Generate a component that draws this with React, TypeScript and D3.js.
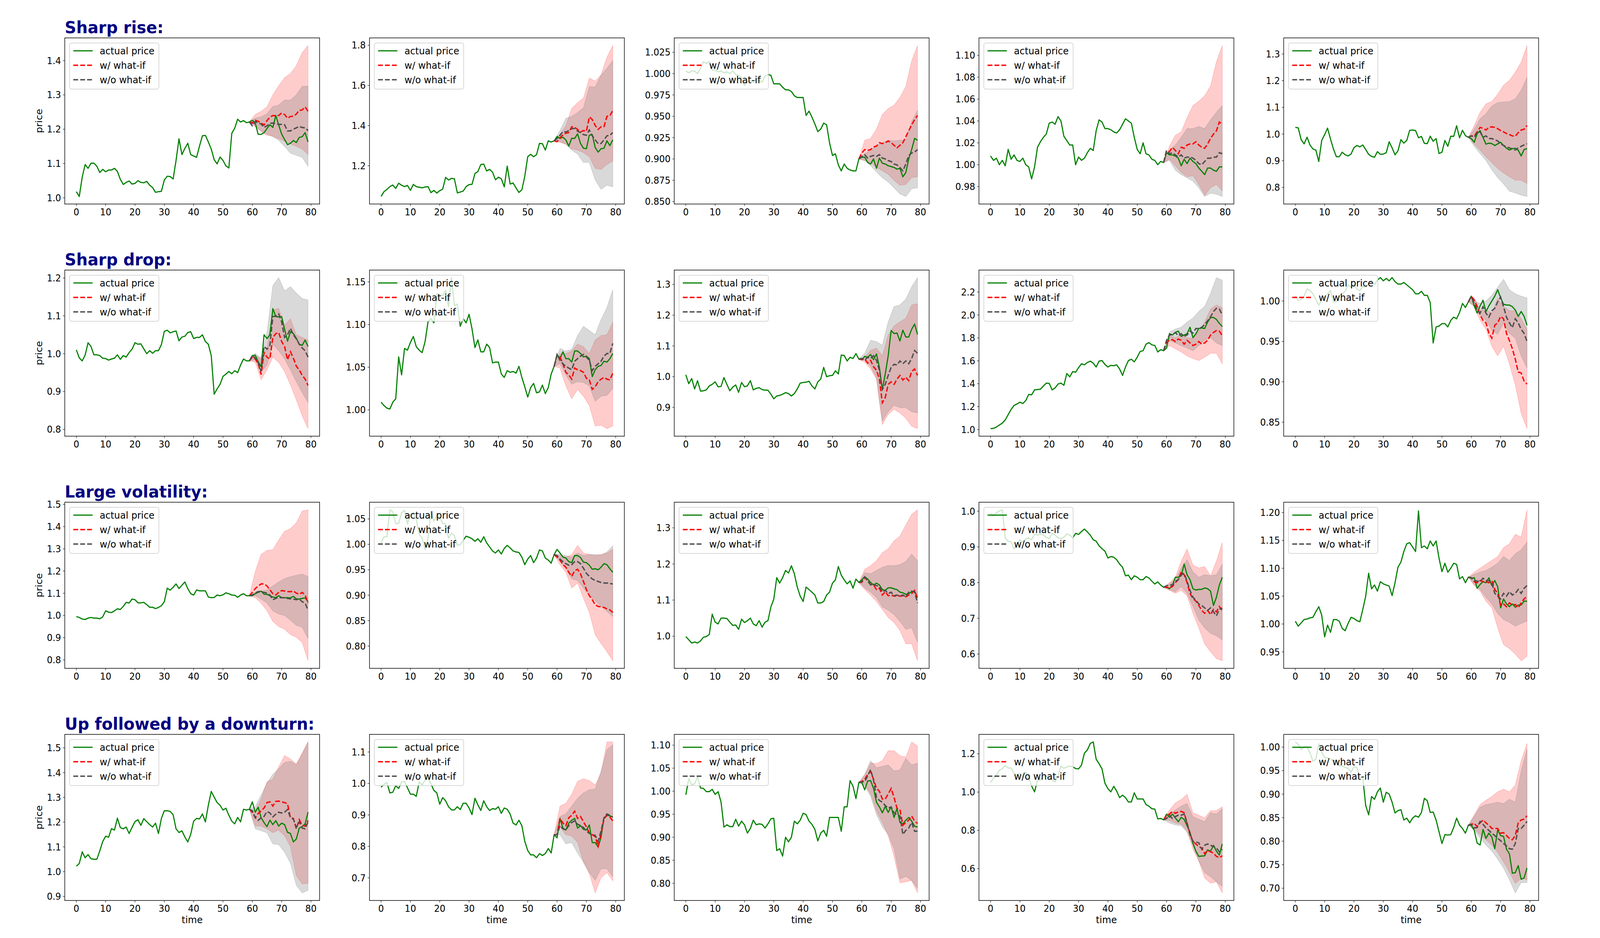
import React from 'react';
import * as d3 from 'd3';

// Row titles, shared tick labels and legend entries
const rowTitles = ['Sharp rise:', 'Sharp drop:', 'Large volatility:', 'Up followed by a downturn:'];
const timeTicks = [0, 10, 20, 30, 40, 50, 60, 70, 80];
const legendLabels = ['actual price', 'w/ what-if', 'w/o what-if'];

// actual price, time steps 0..79, one list per panel (row by row)
const actualPrice: number[][] = [
  [1.018,1.004,1.060,1.097,1.086,1.101,1.101,1.092,1.074,1.083,1.076,1.081,1.081,1.086,1.077,1.054,1.039,1.045,1.049,1.040,1.042,1.050,1.045,1.044,1.048,1.037,1.030,1.016,1.018,1.019,1.052,1.063,1.062,1.055,1.109,1.172,1.126,1.144,1.159,1.126,1.122,1.118,1.151,1.181,1.182,1.163,1.142,1.111,1.099,1.119,1.109,1.093,1.087,1.188,1.203,1.229,1.221,1.225,1.219,1.221,1.226,1.218,1.185,1.185,1.190,1.202,1.213,1.205,1.240,1.212,1.186,1.170,1.155,1.159,1.167,1.161,1.176,1.178,1.190,1.163],
  [1.047,1.071,1.082,1.096,1.104,1.087,1.113,1.103,1.096,1.102,1.077,1.107,1.096,1.093,1.090,1.094,1.096,1.066,1.077,1.064,1.076,1.083,1.142,1.129,1.137,1.135,1.065,1.069,1.074,1.096,1.106,1.107,1.161,1.171,1.206,1.208,1.174,1.182,1.168,1.130,1.143,1.135,1.095,1.198,1.109,1.114,1.090,1.067,1.080,1.148,1.245,1.257,1.245,1.255,1.311,1.310,1.278,1.324,1.318,1.324,1.346,1.336,1.342,1.329,1.298,1.337,1.336,1.359,1.311,1.287,1.285,1.352,1.355,1.291,1.268,1.285,1.287,1.324,1.300,1.329],
  [1.003,1.001,1.003,1.003,1.000,1.006,1.014,1.012,1.014,1.004,1.004,1.002,1.003,1.001,1.002,1.000,1.003,0.999,0.998,0.995,0.986,0.991,0.991,0.990,0.993,0.992,0.990,0.997,0.999,0.998,0.988,0.988,0.988,0.984,0.981,0.981,0.979,0.974,0.972,0.972,0.972,0.951,0.956,0.949,0.941,0.932,0.935,0.942,0.940,0.919,0.904,0.906,0.893,0.886,0.894,0.889,0.887,0.886,0.886,0.900,0.902,0.902,0.896,0.894,0.900,0.889,0.901,0.895,0.894,0.892,0.891,0.890,0.888,0.889,0.879,0.884,0.900,0.911,0.924,0.922],
  [1.008,1.004,1.006,1.000,1.004,0.999,1.014,1.005,1.009,1.004,1.003,1.006,1.000,0.998,0.987,0.998,1.016,1.021,1.025,1.028,1.038,1.039,1.037,1.044,1.040,1.026,1.022,1.018,1.018,1.000,1.007,1.004,1.006,1.011,1.015,1.013,1.031,1.041,1.039,1.033,1.033,1.032,1.030,1.029,1.032,1.037,1.042,1.040,1.038,1.025,1.014,1.010,1.020,1.010,1.009,1.005,1.004,1.000,1.003,1.002,1.011,1.009,1.009,1.008,1.006,0.999,1.005,1.001,1.006,1.003,1.001,0.997,0.994,0.991,0.997,0.997,0.995,0.994,0.998,0.998],
  [1.025,1.023,0.979,0.963,0.988,0.959,0.944,0.940,0.897,0.976,0.998,1.022,0.981,0.944,0.915,0.915,0.932,0.922,0.918,0.925,0.949,0.957,0.952,0.959,0.942,0.924,0.916,0.913,0.934,0.924,0.925,0.930,0.971,0.948,0.922,0.937,0.979,0.966,0.976,1.014,1.015,1.013,0.986,0.991,0.965,0.964,0.992,0.973,0.983,0.927,0.932,0.976,0.954,0.992,0.991,1.031,0.986,1.014,0.994,0.988,0.983,0.969,1.001,1.013,0.987,0.962,0.966,0.964,0.957,0.963,0.969,0.957,0.947,0.940,0.945,0.947,0.939,0.918,0.942,0.945],
  [1.010,0.989,0.981,0.996,1.029,1.019,0.997,0.997,0.995,0.988,0.987,0.983,0.986,0.988,0.997,0.985,0.995,0.991,1.003,1.012,1.029,1.025,1.026,1.013,1.000,1.008,1.001,1.008,1.008,1.024,1.059,1.062,1.055,1.058,1.060,1.034,1.044,1.046,1.056,1.058,1.040,1.043,1.043,1.050,1.032,1.025,0.995,0.893,0.907,0.919,0.940,0.946,0.953,0.947,0.955,0.950,0.970,0.986,0.981,0.981,0.995,0.996,0.979,0.965,1.050,1.040,1.050,1.119,1.098,1.097,1.098,1.065,1.033,1.058,1.053,1.041,1.025,1.022,1.036,1.019],
  [1.009,1.005,1.002,1.001,1.009,1.013,1.062,1.041,1.072,1.070,1.079,1.086,1.074,1.070,1.067,1.080,1.103,1.107,1.102,1.136,1.135,1.134,1.140,1.121,1.155,1.122,1.124,1.098,1.107,1.102,1.112,1.095,1.073,1.082,1.068,1.068,1.077,1.073,1.055,1.056,1.056,1.042,1.038,1.046,1.044,1.045,1.043,1.051,1.038,1.027,1.015,1.026,1.031,1.020,1.021,1.029,1.019,1.026,1.042,1.051,1.065,1.060,1.068,1.060,1.060,1.056,1.069,1.069,1.066,1.062,1.063,1.060,1.039,1.047,1.051,1.052,1.057,1.056,1.060,1.066],
  [1.006,0.977,0.994,0.960,0.987,0.953,0.954,0.957,0.970,0.975,0.983,0.967,0.968,0.997,0.975,0.954,0.966,0.973,0.949,0.981,0.967,0.970,0.987,0.957,0.962,0.964,0.958,0.956,0.956,0.943,0.928,0.937,0.939,0.943,0.948,0.945,0.937,0.945,0.960,0.979,0.981,0.982,0.985,0.970,0.960,0.983,0.992,1.030,1.000,1.003,1.004,1.019,1.009,1.070,1.069,1.051,1.063,1.059,1.075,1.057,1.055,1.066,1.063,1.072,1.055,1.074,1.030,0.958,1.009,1.068,1.150,1.140,1.142,1.116,1.151,1.129,1.129,1.154,1.171,1.137],
  [1.008,1.010,1.022,1.039,1.056,1.084,1.130,1.175,1.210,1.223,1.238,1.227,1.253,1.306,1.303,1.346,1.349,1.352,1.380,1.405,1.403,1.346,1.363,1.397,1.405,1.386,1.489,1.460,1.506,1.500,1.540,1.574,1.565,1.585,1.597,1.580,1.546,1.597,1.602,1.568,1.546,1.560,1.557,1.565,1.528,1.472,1.546,1.602,1.614,1.591,1.631,1.682,1.688,1.745,1.759,1.739,1.734,1.677,1.697,1.688,1.711,1.836,1.825,1.847,1.859,1.813,1.825,1.836,1.893,1.802,1.836,1.882,1.887,1.882,1.938,1.978,1.978,1.961,1.927,1.899],
  [1.006,1.001,1.002,1.006,1.015,1.013,1.009,1.002,0.995,1.001,1.005,1.009,1.013,0.999,0.999,1.006,1.009,1.012,1.020,1.017,1.021,1.015,1.013,1.018,1.017,1.022,1.025,1.020,1.026,1.029,1.025,1.028,1.025,1.029,1.024,1.021,1.021,1.023,1.020,1.017,1.014,1.009,1.009,1.012,1.007,1.007,0.998,0.948,0.968,0.969,0.972,0.972,0.968,0.976,0.980,0.978,0.986,0.997,0.992,0.999,1.006,0.994,0.985,0.994,1.001,0.987,0.994,1.000,1.006,1.014,1.004,0.996,0.995,0.995,0.993,0.989,0.981,0.987,0.981,0.970],
  [0.995,0.991,0.984,0.982,0.988,0.991,0.988,0.988,0.985,0.994,1.021,1.015,1.013,1.021,1.030,1.027,1.041,1.059,1.056,1.074,1.071,1.057,1.057,1.059,1.049,1.037,1.037,1.031,1.036,1.044,1.062,1.123,1.114,1.127,1.142,1.121,1.136,1.151,1.121,1.098,1.092,1.115,1.111,1.111,1.111,1.083,1.080,1.081,1.092,1.089,1.093,1.102,1.098,1.092,1.091,1.082,1.092,1.098,1.089,1.089,1.089,1.098,1.104,1.110,1.096,1.095,1.089,1.083,1.080,1.089,1.080,1.080,1.080,1.079,1.086,1.075,1.074,1.077,1.079,1.062],
  [1.003,1.015,1.015,1.068,1.064,1.041,1.041,1.062,1.067,1.040,1.059,1.063,1.049,1.020,1.012,0.990,1.012,1.064,1.046,1.057,1.054,1.041,1.040,1.012,1.022,1.017,0.998,0.999,1.008,1.016,1.014,1.011,1.006,1.011,1.004,1.015,1.003,0.995,0.987,0.983,0.989,0.981,0.992,0.998,0.993,0.987,0.985,0.984,0.975,0.960,0.971,0.978,0.964,0.973,0.989,0.987,0.973,0.969,0.963,0.980,0.990,0.983,0.975,0.973,0.966,0.964,0.978,0.978,0.974,0.965,0.964,0.959,0.951,0.952,0.950,0.955,0.962,0.960,0.952,0.945],
  [0.999,0.990,0.981,0.984,0.981,0.987,0.997,0.999,1.005,1.061,1.039,1.034,1.050,1.050,1.049,1.039,1.030,1.031,1.019,1.047,1.038,1.043,1.050,1.034,1.029,1.043,1.025,1.039,1.043,1.081,1.103,1.162,1.147,1.162,1.182,1.175,1.195,1.173,1.136,1.111,1.096,1.136,1.129,1.122,1.114,1.092,1.092,1.096,1.114,1.122,1.147,1.156,1.193,1.169,1.156,1.145,1.153,1.133,1.158,1.149,1.156,1.165,1.158,1.149,1.142,1.147,1.142,1.129,1.127,1.134,1.134,1.131,1.129,1.122,1.120,1.116,1.118,1.123,1.125,1.107],
  [0.994,0.986,0.996,1.000,1.004,0.925,0.916,0.914,0.894,0.908,0.920,0.912,0.923,0.925,0.920,0.936,0.933,0.936,0.933,0.927,0.923,0.938,0.933,0.925,0.923,0.927,0.936,0.933,0.925,0.938,0.935,0.943,0.950,0.942,0.933,0.920,0.916,0.903,0.895,0.888,0.869,0.873,0.871,0.864,0.852,0.843,0.819,0.821,0.808,0.819,0.815,0.808,0.808,0.817,0.813,0.804,0.796,0.802,0.793,0.787,0.787,0.783,0.793,0.815,0.815,0.819,0.852,0.822,0.808,0.783,0.779,0.781,0.781,0.785,0.783,0.776,0.736,0.759,0.793,0.815],
  [1.005,0.996,1.002,1.008,1.009,1.011,1.012,1.022,1.031,1.016,0.977,0.998,0.985,1.008,1.008,1.005,0.992,0.988,1.001,1.012,1.010,1.006,1.004,1.026,1.050,1.091,1.063,1.070,1.059,1.076,1.072,1.070,1.068,1.051,1.074,1.102,1.111,1.130,1.144,1.146,1.138,1.130,1.203,1.137,1.140,1.135,1.149,1.140,1.149,1.118,1.094,1.109,1.093,1.100,1.109,1.107,1.081,1.085,1.074,1.084,1.082,1.083,1.064,1.071,1.076,1.074,1.083,1.069,1.078,1.067,1.029,1.045,1.036,1.031,1.036,1.030,1.034,1.034,1.041,1.041],
  [1.022,1.033,1.080,1.056,1.069,1.052,1.050,1.050,1.084,1.122,1.143,1.139,1.174,1.168,1.216,1.178,1.173,1.180,1.154,1.179,1.202,1.210,1.187,1.214,1.202,1.190,1.180,1.196,1.154,1.215,1.246,1.246,1.243,1.230,1.173,1.158,1.165,1.140,1.120,1.151,1.204,1.215,1.213,1.233,1.201,1.268,1.324,1.301,1.279,1.268,1.249,1.256,1.228,1.204,1.193,1.219,1.201,1.252,1.249,1.252,1.282,1.240,1.260,1.218,1.198,1.182,1.208,1.190,1.206,1.184,1.196,1.190,1.159,1.154,1.120,1.132,1.176,1.182,1.193,1.240],
  [0.988,0.997,1.003,0.970,0.972,0.993,0.984,1.005,1.006,0.986,0.966,0.966,0.959,1.005,0.995,1.011,1.015,0.999,0.978,0.970,0.934,0.955,0.945,0.926,0.916,0.916,0.926,0.917,0.937,0.937,0.922,0.901,0.953,0.932,0.914,0.945,0.926,0.914,0.920,0.918,0.926,0.905,0.922,0.918,0.903,0.874,0.868,0.883,0.866,0.816,0.787,0.773,0.773,0.764,0.777,0.771,0.777,0.793,0.779,0.837,0.827,0.889,0.858,0.852,0.874,0.883,0.889,0.858,0.866,0.854,0.852,0.868,0.812,0.812,0.798,0.829,0.891,0.899,0.897,0.893],
  [0.992,1.027,1.014,1.016,1.031,1.007,1.006,0.999,0.999,1.004,0.993,0.999,0.977,0.922,0.927,0.923,0.923,0.939,0.924,0.935,0.927,0.909,0.919,0.937,0.927,0.929,0.928,0.920,0.929,0.940,0.941,0.871,0.875,0.859,0.900,0.890,0.900,0.935,0.929,0.937,0.952,0.949,0.935,0.928,0.917,0.892,0.909,0.915,0.902,0.943,0.943,0.943,0.943,0.913,0.966,0.966,1.023,1.011,0.984,1.019,1.019,1.003,1.022,1.023,1.006,0.976,0.966,0.953,0.967,0.954,0.966,0.943,0.963,0.932,0.929,0.937,0.943,0.935,0.924,0.922],
  [1.049,1.073,1.090,1.114,1.121,1.139,1.126,1.126,1.097,1.090,1.097,1.080,1.104,1.080,1.032,1.001,1.063,1.063,1.080,1.083,1.076,1.063,1.053,1.083,1.136,1.124,1.131,1.136,1.132,1.123,1.121,1.141,1.203,1.220,1.254,1.262,1.172,1.148,1.121,1.046,1.018,1.001,1.030,1.005,0.971,0.984,0.971,0.948,0.948,0.996,0.964,0.964,0.964,0.935,0.926,0.913,0.911,0.860,0.862,0.855,0.885,0.868,0.885,0.865,0.845,0.868,0.857,0.824,0.790,0.732,0.691,0.664,0.666,0.667,0.698,0.691,0.722,0.691,0.671,0.729],
  [1.011,1.006,0.995,1.000,1.001,0.988,0.970,0.974,1.007,0.989,0.978,0.977,0.975,0.970,0.973,0.960,0.960,0.957,0.955,0.946,0.959,0.956,0.935,0.935,0.876,0.856,0.895,0.889,0.905,0.913,0.883,0.904,0.900,0.883,0.860,0.865,0.867,0.845,0.849,0.839,0.849,0.854,0.851,0.861,0.891,0.886,0.861,0.862,0.845,0.820,0.795,0.814,0.813,0.814,0.829,0.849,0.834,0.827,0.817,0.834,0.834,0.823,0.796,0.792,0.825,0.806,0.817,0.809,0.784,0.824,0.812,0.810,0.783,0.773,0.732,0.733,0.748,0.719,0.722,0.743],
];

// forecast with what-if, time steps 59..79
const withWhatIf: number[][] = [
  [1.221,1.218,1.226,1.223,1.218,1.212,1.225,1.235,1.240,1.239,1.240,1.247,1.243,1.232,1.237,1.238,1.244,1.255,1.256,1.265,1.252],
  [1.324,1.320,1.339,1.354,1.362,1.365,1.394,1.391,1.381,1.368,1.375,1.372,1.443,1.430,1.401,1.381,1.394,1.395,1.446,1.449,1.475],
  [0.900,0.907,0.911,0.910,0.911,0.914,0.915,0.919,0.918,0.919,0.921,0.919,0.916,0.913,0.916,0.919,0.926,0.933,0.940,0.946,0.951],
  [1.002,1.013,1.012,1.016,1.013,1.010,1.016,1.015,1.018,1.019,1.019,1.021,1.018,1.016,1.015,1.019,1.024,1.028,1.031,1.039,1.037],
  [0.988,0.993,0.993,1.008,1.025,1.022,1.015,1.025,1.027,1.025,1.020,1.013,1.008,1.002,0.998,0.993,0.992,1.005,1.015,1.018,1.032],
  [0.981,0.991,0.986,0.974,0.945,1.003,0.991,0.986,1.043,1.053,1.056,1.032,1.019,0.984,1.005,0.988,0.967,0.957,0.943,0.933,0.916],
  [1.051,1.064,1.062,1.054,1.044,1.041,1.036,1.049,1.047,1.046,1.044,1.037,1.035,1.024,1.027,1.033,1.036,1.038,1.036,1.035,1.043],
  [1.057,1.056,1.057,1.044,1.053,1.032,1.021,0.992,0.915,0.932,0.975,0.983,0.975,0.992,1.004,0.989,0.998,0.987,1.017,1.025,1.004],
  [1.688,1.762,1.779,1.785,1.768,1.790,1.779,1.745,1.779,1.756,1.733,1.745,1.768,1.745,1.756,1.779,1.825,1.847,1.864,1.859,1.819],
  [0.999,1.006,1.001,0.993,0.983,0.976,0.973,0.960,0.954,0.970,0.973,0.981,0.978,0.960,0.951,0.941,0.928,0.912,0.911,0.901,0.897],
  [1.089,1.104,1.121,1.133,1.142,1.142,1.133,1.115,1.098,1.092,1.104,1.112,1.110,1.108,1.107,1.110,1.101,1.095,1.104,1.092,1.056],
  [0.980,0.975,0.969,0.960,0.955,0.945,0.937,0.948,0.951,0.942,0.927,0.911,0.899,0.891,0.881,0.878,0.877,0.876,0.873,0.871,0.866],
  [1.149,1.149,1.162,1.154,1.143,1.142,1.129,1.133,1.114,1.123,1.112,1.114,1.111,1.112,1.111,1.112,1.109,1.114,1.118,1.127,1.103],
  [0.787,0.787,0.785,0.789,0.800,0.808,0.830,0.822,0.800,0.770,0.755,0.748,0.736,0.722,0.714,0.722,0.710,0.725,0.718,0.733,0.722],
  [1.084,1.083,1.076,1.074,1.078,1.076,1.076,1.074,1.078,1.062,1.055,1.034,1.036,1.031,1.038,1.034,1.035,1.029,1.038,1.045,1.050],
  [1.252,1.240,1.218,1.235,1.246,1.257,1.279,1.282,1.265,1.284,1.285,1.282,1.279,1.274,1.218,1.215,1.173,1.210,1.187,1.184,1.207],
  [0.837,0.837,0.889,0.874,0.866,0.891,0.899,0.912,0.889,0.895,0.878,0.862,0.843,0.837,0.831,0.800,0.841,0.887,0.899,0.893,0.881],
  [1.019,1.021,1.026,1.036,1.043,1.026,1.006,1.000,0.983,0.983,0.994,1.006,0.986,0.963,0.960,0.926,0.932,0.937,0.946,0.935,0.930],
  [0.855,0.879,0.885,0.899,0.889,0.896,0.899,0.892,0.838,0.783,0.742,0.729,0.715,0.708,0.678,0.695,0.688,0.681,0.664,0.657,0.667],
  [0.834,0.836,0.838,0.831,0.839,0.845,0.839,0.834,0.827,0.827,0.827,0.817,0.818,0.812,0.806,0.803,0.812,0.839,0.845,0.847,0.854],
];

// forecast without what-if, time steps 59..79
const withoutWhatIf: number[][] = [
  [1.221,1.210,1.222,1.218,1.215,1.205,1.210,1.217,1.218,1.216,1.214,1.214,1.213,1.195,1.195,1.200,1.204,1.208,1.205,1.204,1.196],
  [1.324,1.336,1.352,1.370,1.368,1.375,1.384,1.386,1.372,1.365,1.355,1.352,1.378,1.349,1.329,1.310,1.311,1.329,1.349,1.352,1.365],
  [0.900,0.903,0.905,0.901,0.903,0.904,0.903,0.905,0.901,0.900,0.898,0.897,0.894,0.893,0.890,0.886,0.894,0.904,0.907,0.908,0.911],
  [1.002,1.013,1.010,1.011,1.009,1.007,1.009,1.006,1.007,1.007,1.006,1.004,1.001,1.000,1.003,1.006,1.006,1.007,1.007,1.011,1.010],
  [0.988,0.993,0.988,1.005,1.008,0.988,0.993,0.983,0.983,0.979,0.974,0.964,0.957,0.952,0.948,0.944,0.940,0.948,0.954,0.959,0.964],
  [0.981,0.995,0.988,0.977,0.953,1.019,1.012,1.022,1.098,1.099,1.105,1.084,1.043,1.050,1.067,1.050,1.039,1.025,1.015,1.008,0.991],
  [1.051,1.065,1.058,1.054,1.051,1.049,1.047,1.057,1.060,1.063,1.065,1.062,1.058,1.046,1.051,1.054,1.057,1.063,1.066,1.066,1.078],
  [1.057,1.059,1.054,1.063,1.059,1.068,1.053,1.021,0.958,0.975,1.004,1.030,1.040,1.038,1.051,1.042,1.051,1.042,1.059,1.085,1.076],
  [1.688,1.779,1.825,1.830,1.847,1.819,1.836,1.813,1.825,1.859,1.842,1.882,1.882,1.893,1.916,1.950,1.984,2.030,2.058,2.052,2.001],
  [0.999,1.005,0.997,0.989,0.985,0.993,0.985,0.980,0.988,0.991,0.999,1.005,0.993,0.980,0.973,0.967,0.978,0.973,0.965,0.960,0.950],
  [1.089,1.092,1.101,1.108,1.107,1.104,1.101,1.092,1.071,1.077,1.080,1.080,1.079,1.077,1.075,1.074,1.071,1.074,1.062,1.056,1.024],
  [0.980,0.978,0.971,0.966,0.962,0.959,0.960,0.966,0.966,0.962,0.953,0.943,0.937,0.932,0.929,0.927,0.925,0.924,0.924,0.923,0.922],
  [1.149,1.151,1.164,1.153,1.142,1.143,1.140,1.138,1.122,1.127,1.118,1.122,1.112,1.114,1.111,1.114,1.109,1.122,1.125,1.122,1.092],
  [0.787,0.791,0.793,0.794,0.804,0.808,0.822,0.826,0.804,0.778,0.759,0.751,0.740,0.736,0.729,0.722,0.729,0.718,0.707,0.725,0.729],
  [1.084,1.083,1.078,1.077,1.076,1.082,1.078,1.078,1.074,1.055,1.050,1.045,1.055,1.050,1.058,1.052,1.055,1.062,1.055,1.064,1.069],
  [1.252,1.246,1.218,1.207,1.218,1.223,1.243,1.237,1.221,1.232,1.240,1.237,1.240,1.251,1.218,1.212,1.179,1.201,1.176,1.173,1.201],
  [0.837,0.837,0.866,0.856,0.852,0.866,0.876,0.881,0.870,0.866,0.860,0.849,0.841,0.837,0.835,0.816,0.849,0.891,0.903,0.899,0.893],
  [1.019,1.020,1.021,1.033,1.047,1.024,0.986,0.980,0.976,0.969,0.963,0.966,0.953,0.949,0.946,0.906,0.915,0.920,0.932,0.913,0.913],
  [0.855,0.862,0.879,0.862,0.872,0.879,0.879,0.885,0.838,0.776,0.742,0.739,0.735,0.701,0.722,0.729,0.722,0.715,0.708,0.688,0.701],
  [0.834,0.836,0.828,0.829,0.842,0.836,0.828,0.823,0.817,0.812,0.806,0.801,0.795,0.790,0.784,0.783,0.795,0.827,0.827,0.834,0.842],
];

// uncertainty bands, read at time steps 59, 61, ..., 79
const withLow: number[][] = [
  [1.221,1.207,1.193,1.182,1.180,1.172,1.165,1.157,1.150,1.142,1.126],
  [1.324,1.316,1.307,1.284,1.278,1.265,1.245,1.187,1.181,1.206,1.223],
  [0.900,0.898,0.896,0.890,0.886,0.882,0.875,0.869,0.870,0.878,0.879],
  [1.002,1.005,0.999,0.993,0.989,0.990,0.982,0.972,0.979,0.982,0.976],
  [0.988,0.962,0.940,0.915,0.893,0.871,0.854,0.840,0.827,0.827,0.815],
  [0.981,0.977,0.931,0.957,0.991,0.977,0.953,0.917,0.878,0.836,0.802],
  [1.051,1.049,1.028,1.013,1.024,1.016,1.005,0.981,0.982,0.978,0.981],
  [1.057,1.047,1.025,0.992,0.844,0.877,0.894,0.882,0.865,0.839,0.831],
  [1.688,1.733,1.705,1.677,1.642,1.620,1.602,1.631,1.665,1.665,1.574],
  [0.999,0.993,0.976,0.965,0.944,0.932,0.944,0.922,0.896,0.861,0.842],
  [1.089,1.080,1.056,1.021,0.973,0.950,0.938,0.914,0.902,0.879,0.796],
  [0.980,0.960,0.945,0.914,0.924,0.894,0.866,0.822,0.805,0.789,0.771],
  [1.149,1.129,1.114,1.096,1.074,1.052,1.038,1.016,0.979,0.979,0.932],
  [0.787,0.778,0.770,0.778,0.763,0.714,0.673,0.628,0.606,0.587,0.581],
  [1.084,1.069,1.059,1.041,1.029,0.993,0.963,0.956,0.946,0.934,0.942],
  [1.252,1.184,1.184,1.173,1.157,1.168,1.145,1.101,0.984,0.950,0.953],
  [0.837,0.862,0.837,0.833,0.812,0.750,0.713,0.652,0.700,0.717,0.690],
  [1.019,1.014,0.994,0.957,0.932,0.903,0.858,0.801,0.803,0.806,0.779],
  [0.855,0.851,0.838,0.831,0.797,0.701,0.640,0.551,0.524,0.531,0.473],
  [0.834,0.825,0.814,0.803,0.792,0.776,0.756,0.734,0.710,0.721,0.718],
];
const withHigh: number[][] = [
  [1.221,1.243,1.252,1.265,1.300,1.327,1.350,1.362,1.385,1.423,1.444],
  [1.324,1.355,1.400,1.485,1.514,1.537,1.637,1.621,1.653,1.740,1.799],
  [0.900,0.922,0.924,0.935,0.952,0.959,0.963,0.972,0.985,1.015,1.033],
  [1.002,1.017,1.027,1.030,1.043,1.054,1.058,1.063,1.072,1.094,1.109],
  [0.988,1.032,1.081,1.113,1.122,1.149,1.183,1.201,1.232,1.269,1.332],
  [0.981,0.995,0.988,1.015,1.115,1.120,1.074,1.092,1.050,1.043,1.036],
  [1.051,1.066,1.066,1.069,1.077,1.074,1.066,1.082,1.087,1.088,1.103],
  [1.057,1.063,1.085,1.093,1.068,1.135,1.165,1.178,1.190,1.233,1.237],
  [1.688,1.825,1.802,1.825,1.802,1.796,1.859,1.938,2.052,2.087,2.064],
  [0.999,1.004,0.989,0.989,0.985,1.003,0.993,0.988,0.988,0.978,0.965],
  [1.089,1.198,1.275,1.293,1.296,1.340,1.379,1.391,1.417,1.470,1.476],
  [0.980,0.978,0.975,0.980,0.998,0.983,0.980,0.978,0.980,0.983,0.990],
  [1.149,1.185,1.195,1.209,1.231,1.242,1.264,1.277,1.308,1.337,1.350],
  [0.787,0.800,0.815,0.860,0.894,0.849,0.841,0.845,0.819,0.860,0.912],
  [1.084,1.093,1.100,1.107,1.114,1.121,1.137,1.144,1.161,1.156,1.205],
  [1.252,1.246,1.293,1.363,1.374,1.424,1.469,1.455,1.435,1.480,1.524],
  [0.837,0.928,0.937,0.966,1.007,1.015,1.009,0.995,1.032,1.132,1.132],
  [1.019,1.034,1.061,1.060,1.066,1.088,1.088,1.077,1.074,1.107,1.098],
  [0.855,0.906,0.943,0.961,0.988,0.892,0.879,0.865,0.903,0.903,0.923],
  [0.834,0.856,0.878,0.887,0.895,0.905,0.911,0.905,0.919,0.971,1.008],
];
const withoutLow: number[][] = [
  [1.221,1.210,1.195,1.186,1.178,1.168,1.150,1.130,1.124,1.118,1.092],
  [1.324,1.320,1.307,1.278,1.258,1.216,1.216,1.129,1.083,1.103,1.095],
  [0.900,0.898,0.892,0.885,0.878,0.873,0.866,0.859,0.856,0.865,0.866],
  [1.002,1.004,0.995,0.991,0.988,0.985,0.979,0.971,0.974,0.973,0.971],
  [0.988,0.954,0.927,0.901,0.866,0.837,0.813,0.786,0.779,0.771,0.766],
  [0.981,0.983,0.953,0.970,1.025,1.008,0.986,0.957,0.926,0.897,0.871],
  [1.051,1.054,1.041,1.030,1.033,1.032,1.028,1.010,1.016,1.017,1.025],
  [1.057,1.053,1.034,0.996,0.856,0.886,0.907,0.899,0.899,0.886,0.882],
  [1.688,1.779,1.756,1.733,1.711,1.688,1.733,1.779,1.802,1.756,1.733],
  [0.999,0.994,0.983,0.976,0.964,0.959,0.973,0.960,0.954,0.932,0.917],
  [1.089,1.089,1.074,1.056,1.021,1.006,1.000,0.979,0.956,0.947,0.896],
  [0.980,0.967,0.952,0.932,0.929,0.914,0.899,0.889,0.878,0.868,0.858],
  [1.149,1.134,1.122,1.107,1.081,1.072,1.060,1.041,1.019,1.023,0.983],
  [0.787,0.781,0.774,0.789,0.770,0.733,0.695,0.673,0.658,0.651,0.639],
  [1.084,1.071,1.062,1.048,1.036,1.019,1.008,1.003,0.996,1.001,1.005],
  [1.252,1.173,1.165,1.157,1.112,1.109,1.079,1.034,0.945,0.914,0.925],
  [0.837,0.837,0.808,0.812,0.779,0.750,0.717,0.692,0.729,0.729,0.704],
  [1.019,1.011,0.989,0.949,0.923,0.906,0.875,0.809,0.815,0.806,0.789],
  [0.855,0.838,0.828,0.824,0.790,0.722,0.640,0.579,0.558,0.531,0.507],
  [0.834,0.823,0.806,0.792,0.779,0.762,0.743,0.718,0.690,0.712,0.712],
];
const withoutHigh: number[][] = [
  [1.221,1.232,1.236,1.245,1.266,1.270,1.285,1.285,1.300,1.325,1.325],
  [1.324,1.375,1.436,1.446,1.465,1.488,1.595,1.592,1.650,1.685,1.724],
  [0.900,0.906,0.910,0.916,0.919,0.922,0.921,0.922,0.922,0.944,0.957],
  [1.002,1.013,1.018,1.025,1.033,1.033,1.035,1.033,1.041,1.048,1.054],
  [0.988,1.018,1.057,1.076,1.105,1.118,1.120,1.122,1.132,1.164,1.213],
  [0.981,1.001,0.988,1.056,1.180,1.201,1.166,1.177,1.160,1.146,1.142],
  [1.051,1.072,1.069,1.071,1.087,1.098,1.093,1.088,1.106,1.120,1.141],
  [1.057,1.076,1.118,1.114,1.102,1.178,1.228,1.233,1.252,1.292,1.322],
  [1.688,1.853,1.876,1.893,1.938,1.973,2.030,2.075,2.189,2.326,2.303],
  [0.999,1.001,0.997,1.000,1.007,1.017,1.027,1.014,1.009,1.006,1.004],
  [1.089,1.103,1.110,1.115,1.133,1.151,1.166,1.175,1.181,1.186,1.175],
  [0.980,0.981,0.978,0.975,0.983,0.978,0.980,0.980,0.979,0.985,0.997],
  [1.149,1.176,1.173,1.182,1.191,1.196,1.195,1.198,1.207,1.227,1.209],
  [0.787,0.796,0.808,0.841,0.864,0.830,0.815,0.822,0.819,0.822,0.851],
  [1.084,1.089,1.093,1.096,1.102,1.109,1.121,1.114,1.126,1.133,1.147],
  [1.252,1.262,1.310,1.357,1.393,1.416,1.441,1.446,1.432,1.474,1.524],
  [0.837,0.895,0.903,0.928,0.953,0.970,0.980,0.982,1.040,1.107,1.123],
  [1.019,1.037,1.066,1.051,1.054,1.057,1.044,1.046,1.071,1.057,1.061],
  [0.855,0.882,0.906,0.926,0.940,0.872,0.858,0.845,0.892,0.885,0.913],
  [0.834,0.853,0.872,0.878,0.880,0.883,0.880,0.889,0.883,0.949,0.996],
];

// y tick labels shown on each panel
const priceTicks: number[][] = [
  [1.0, 1.1, 1.2, 1.3, 1.4],
  [1.2, 1.4, 1.6, 1.8],
  [0.85, 0.875, 0.9, 0.925, 0.95, 0.975, 1.0, 1.025],
  [0.98, 1.0, 1.02, 1.04, 1.06, 1.08, 1.1],
  [0.8, 0.9, 1.0, 1.1, 1.2, 1.3],
  [0.8, 0.9, 1.0, 1.1, 1.2],
  [1.0, 1.05, 1.1, 1.15],
  [0.9, 1.0, 1.1, 1.2, 1.3],
  [1.0, 1.2, 1.4, 1.6, 1.8, 2.0, 2.2],
  [0.85, 0.9, 0.95, 1.0],
  [0.8, 0.9, 1.0, 1.1, 1.2, 1.3, 1.4, 1.5],
  [0.8, 0.85, 0.9, 0.95, 1.0, 1.05],
  [1.0, 1.1, 1.2, 1.3],
  [0.6, 0.7, 0.8, 0.9, 1.0],
  [0.95, 1.0, 1.05, 1.1, 1.15, 1.2],
  [0.9, 1.0, 1.1, 1.2, 1.3, 1.4, 1.5],
  [0.7, 0.8, 0.9, 1.0, 1.1],
  [0.8, 0.85, 0.9, 0.95, 1.0, 1.05, 1.1],
  [0.6, 0.8, 1.0, 1.2],
  [0.7, 0.75, 0.8, 0.85, 0.9, 0.95, 1.0],
];

const predSteps = d3.range(59, 80);
const bandSteps = d3.range(59, 80, 2);

// figure layout (in figure pixels; the svg is scaled to the window with a viewBox)
const WIDTH = 4300;
const HEIGHT = 2400;
const AX_W = 685;
const AX_H = 425;
const colLeft = (c: number) => 174 + c * 819;
const rowTop = (r: number) => 97 + r * 594;
const FONT = "'DejaVu Sans', sans-serif";

const decimalsOf = (ticks: number[]) => {
  const step = Math.abs(ticks[1] - ticks[0]);
  for (let d = 0; d < 5; d++) {
    const v = step * Math.pow(10, d);
    if (Math.abs(Math.round(v) - v) < 1e-6) return d;
  }
  return 3;
};

const Panel = ({ idx }: { idx: number }) => {
  const row = Math.floor(idx / 5);
  const col = idx % 5;
  const left = colLeft(col);
  const top = rowTop(row);

  const all = [
    ...actualPrice[idx], ...withWhatIf[idx], ...withoutWhatIf[idx],
    ...withLow[idx], ...withHigh[idx], ...withoutLow[idx], ...withoutHigh[idx],
  ];
  const [lo, hi] = d3.extent(all) as [number, number];
  const pad = (hi - lo) * 0.05;

  const x = d3.scaleLinear().domain([-3.95, 82.95]).range([0, AX_W]);
  const y = d3.scaleLinear().domain([lo - pad, hi + pad]).range([AX_H, 0]);

  const actualLine = d3.line<number>().x((_, i) => x(i)).y(d => y(d));
  const predLine = d3.line<number>().x((_, i) => x(predSteps[i])).y(d => y(d));
  const band = (low: number[], high: number[]) =>
    d3.area<number>()
      .x((_, i) => x(bandSteps[i]))
      .y0((_, i) => y(low[i]))
      .y1((_, i) => y(high[i]))(low) as string;

  const ticks = priceTicks[idx];
  const fmt = d3.format(`.${decimalsOf(ticks)}f`);

  return (
    <g transform={`translate(${left},${top})`}>
      {col === 0 && (
        <text x={0} y={-12} fontFamily={FONT} fontWeight="bold" fontSize={43} fill="#000080">
          {rowTitles[row]}
        </text>
      )}
      <rect x={0} y={0} width={AX_W} height={AX_H} fill="white" />

      <path d={band(withLow[idx], withHigh[idx])} fill="red" fillOpacity={0.2} stroke="red" strokeOpacity={0.2} strokeWidth={1.4} />
      <path d={band(withoutLow[idx], withoutHigh[idx])} fill="gray" fillOpacity={0.3} stroke="gray" strokeOpacity={0.3} strokeWidth={1.4} />

      <path d={actualLine(actualPrice[idx]) as string} fill="none" stroke="green" strokeWidth={3} strokeLinejoin="round" />
      <path d={predLine(withWhatIf[idx]) as string} fill="none" stroke="red" strokeWidth={3.5} strokeDasharray="13 5.6" />
      <path d={predLine(withoutWhatIf[idx]) as string} fill="none" stroke="#4d4d4d" strokeWidth={3.5} strokeDasharray="13 5.6" />

      {/* legend */}
      <g transform="translate(13,13)">
        <rect x={0} y={0} width={240} height={118} rx={5} fill="white" fillOpacity={0.8} stroke="#cccccc" strokeWidth={1.5} />
        {legendLabels.map((lab, i) => {
          const cy = 20 + i * 37;
          const stroke = i === 0 ? 'green' : i === 1 ? 'red' : '#4d4d4d';
          return (
            <g key={lab}>
              <line x1={10} x2={62} y1={cy} y2={cy} stroke={stroke} strokeWidth={i === 0 ? 3 : 3.5}
                strokeDasharray={i === 0 ? undefined : '13 5.6'} />
              <text x={81} y={cy + 9} fontFamily={FONT} fontSize={25} fill="black">{lab}</text>
            </g>
          );
        })}
      </g>

      {/* x axis */}
      {timeTicks.map(t => (
        <g key={`x${t}`} transform={`translate(${x(t)},${AX_H})`}>
          <line y1={0} y2={5} stroke="black" strokeWidth={1.1} />
          <text y={29} textAnchor="middle" fontFamily={FONT} fontSize={24} fill="black">{t}</text>
        </g>
      ))}
      {/* y axis */}
      {ticks.map(t => (
        <g key={`y${t}`} transform={`translate(0,${y(t)})`}>
          <line x1={0} x2={-5} stroke="black" strokeWidth={1.1} />
          <text x={-10} dy="0.36em" textAnchor="end" fontFamily={FONT} fontSize={24} fill="black">{fmt(t)}</text>
        </g>
      ))}

      <rect x={0} y={0} width={AX_W} height={AX_H} fill="none" stroke="black" strokeWidth={1.5} />

      {col === 0 && (
        <text transform={`translate(${106 - left + 7},${AX_H / 2}) rotate(-90)`} textAnchor="middle"
          fontFamily={FONT} fontSize={25} fill="black">price</text>
      )}
      {row === 3 && (
        <text x={AX_W / 2} y={AX_H + 58} textAnchor="middle" fontFamily={FONT} fontSize={25} fill="black">time</text>
      )}
    </g>
  );
};

const App = () => (
  <svg
    viewBox={`0 0 ${WIDTH} ${HEIGHT}`}
    preserveAspectRatio="none"
    style={{ position: 'fixed', left: 0, top: 0, width: '100vw', height: '100vh', display: 'block', background: 'white' }}
  >
    <rect width={WIDTH} height={HEIGHT} fill="white" />
    {d3.range(20).map(i => <Panel key={i} idx={i} />)}
  </svg>
);

export default App;
